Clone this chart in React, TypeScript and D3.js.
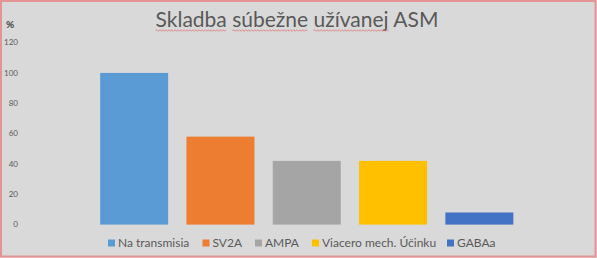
import React, { useLayoutEffect, useRef, useState } from "react";
import * as d3 from "d3";

const categories = ["Na transmisia", "SV2A", "AMPA", "Viacero mech. Účinku", "GABAa"];
const values = [100, 58, 42, 42, 8];
const colors = ["#5b9bd5", "#ed7d31", "#a5a5a5", "#ffc000", "#4472c4"];
const yTicks = [0, 20, 40, 60, 80, 100, 120];
const title = "Skladba súbežne užívanej ASM";
const misspelled = ["Skladba", "súbežne", "užívanej"];
const unitLabel = "%";

const W = 597;
const H = 258;

function squiggle(x0: number, x1: number, yy: number) {
  const p = d3.path();
  const step = 1.5;
  p.moveTo(x0, yy);
  let up = true;
  for (let xx = x0 + step; xx <= x1; xx += step) {
    p.lineTo(xx, yy + (up ? -0.8 : 0.8));
    up = !up;
  }
  return p.toString();
}

export default function App() {
  const x = d3.scaleBand<string>().domain(categories).range([91, 522.5]).paddingInner(0.212).paddingOuter(0.106);
  const y = d3.scaleLinear().domain([0, 120]).range([224.6, 42.6]);
  const font = "Lato, 'Open Sans', sans-serif";
  const legendX = [108, 202.5, 255, 312, 447];

  const titleRef = useRef<SVGTextElement>(null);
  const [spans, setSpans] = useState<[number, number][]>([]);

  useLayoutEffect(() => {
    const el = titleRef.current;
    if (!el) return;
    const res: [number, number][] = [];
    misspelled.forEach((w) => {
      const i = title.indexOf(w);
      if (i < 0) return;
      const a = el.getExtentOfChar(i);
      const b = el.getExtentOfChar(i + w.length - 1);
      res.push([a.x, b.x + b.width]);
    });
    setSpans(res);
  }, []);

  return (
    <svg width={W} height={H} style={{ position: "absolute", left: 0, top: 0 }} fontFamily={font}>
      <rect x={0} y={0} width={W} height={H} fill="#d9d9d9" />
      <rect x={1} y={1} width={W - 2.5} height={H - 2.5} fill="none" stroke="#e49494" strokeWidth={2} />
      <text ref={titleRef} x={297} y={27} textAnchor="middle" fontSize={21} fill="#595959">{title}</text>
      {spans.map(([a, b], i) => (
        <path key={i} d={squiggle(a, b, 30.5)} fill="none" stroke="#e06b6b" strokeWidth={0.7} />
      ))}
      <text x={6} y={28} fontSize={10} fontWeight="bold" fill="#404040">{unitLabel}</text>
      {yTicks.map((t) => (
        <text key={t} x={18} y={y(t)} dy="0.35em" textAnchor="end" fontSize={8} fill="#595959">{t}</text>
      ))}
      {categories.map((c, i) => (
        <rect key={c} x={x(c)} y={y(values[i])} width={x.bandwidth()} height={y(0) - y(values[i])} fill={colors[i]} />
      ))}
      {categories.map((c, i) => (
        <g key={"l" + c} transform={`translate(${legendX[i]},243)`}>
          <rect x={0} y={-3.5} width={7} height={7} fill={colors[i]} />
          <text x={10} y={0} dy="0.35em" fontSize={12} fill="#595959">{c}</text>
        </g>
      ))}
    </svg>
  );
}
